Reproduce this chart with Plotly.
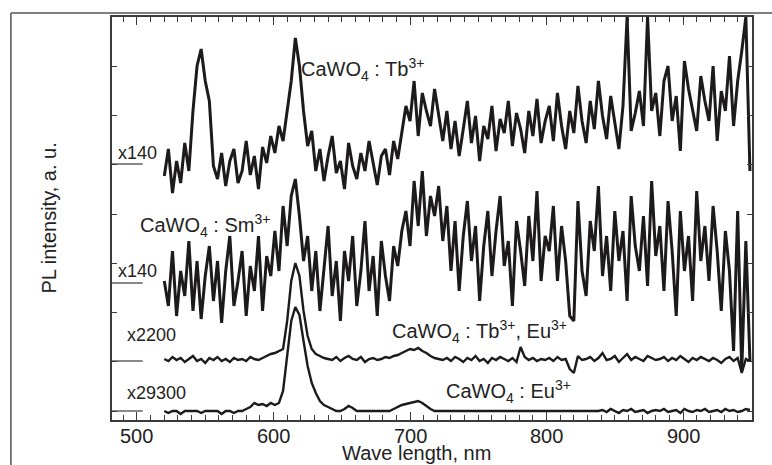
import plotly.graph_objects as go

# wavelength grid, nm
wavelength = list(range(520, 950, 3))
x_tick_values = [500, 600, 700, 800, 900]

# CaWO4:Tb3+ (x140), stacked intensity
tb = [235, 262, 218, 250, 228, 268, 240, 300,
      345, 362, 330, 310,
      245, 232, 258, 225, 250, 262, 228, 240, 270, 236, 255, 222, 264, 248, 275,
      258, 285, 270, 300, 330,
      373, 345,
      300, 265, 280, 240, 262, 230, 255, 275, 238, 250, 222, 268, 245, 232, 258, 240, 270, 248, 226, 255, 262, 236, 270, 252, 280,
      305, 290, 330, 275, 318, 300, 285, 322, 296,
      270, 300, 262, 290, 255, 282, 310, 268, 295, 250, 285, 272, 305, 260, 292, 278, 310, 265, 298, 282, 258, 300, 275, 312, 268, 290,
      305, 270, 318, 285, 262, 300, 278, 325, 290, 268, 310, 282, 330, 295, 272, 315, 288, 262, 305, 394, 280, 298, 320, 285, 394, 300, 318,
      275, 330, 345, 290, 315, 260, 350, 322, 300, 280, 335, 310, 290, 345, 270, 320, 300, 355, 285, 330, 360, 394, 240]

# CaWO4:Sm3+ (x140)
sm = [130, 105, 160, 95, 140, 115, 170, 100,
      150, 92, 135, 165,
      110, 150, 88, 140, 175, 105, 130, 160, 95, 145, 120, 175, 100, 155, 135,
      180, 140, 205, 165, 215,
      232, 195,
      150, 175, 120, 160, 100, 145, 185, 115, 150, 90, 160, 130, 175, 105, 140, 190, 120, 155, 95, 170, 135, 110, 165, 145, 180,
      200, 165, 230, 185, 240, 175, 215, 195, 225,
      170, 205, 140, 190, 120, 175, 210, 150, 185, 110, 165, 200, 135, 180, 215, 145, 170, 105, 190, 160, 125, 195, 150, 220, 130, 175,
      160, 205, 130, 185, 150, 95, 90, 210, 140, 115, 190, 160, 225, 135, 175, 120, 200, 150, 180, 110, 215, 165, 140, 195, 125, 230, 155,
      185, 120, 210, 160, 95, 200, 140, 175, 110, 220, 150, 185, 130, 205, 160, 100, 180, 140, 60, 200, 40, 170, 50]

# CaWO4:Tb3+,Eu3+ (x2200)
tbeu = [52, 50, 54, 51, 53, 49, 52, 55, 50, 52, 48, 53, 51, 54, 50, 52, 49, 53, 51, 52, 50, 54, 52, 51, 53, 55, 57,
        58, 60, 62, 90, 130,
        148, 135,
        100, 75, 62, 57, 55, 53, 52, 51, 54, 50, 53, 55, 52, 51, 54, 49, 52, 53, 51, 52, 54, 53, 55, 56, 58,
        60, 62, 61, 63, 60, 58, 55, 53, 52,
        51, 53, 50, 54, 52, 49, 53, 51, 55, 50, 52, 48, 53, 51, 54, 52, 50, 53, 49, 64, 54, 51, 53, 50, 52, 51,
        53, 50, 54, 51, 52, 42, 38, 55, 51, 52, 54, 50, 53, 58, 51, 52, 55, 49, 53, 57, 51, 54, 52, 50, 55, 53, 51,
        52, 54, 50, 53, 51, 55, 52, 49, 53, 51, 54, 52, 50, 53, 51, 48, 52, 54, 50, 53, 38, 52, 50]

# CaWO4:Eu3+ (x29300)
eu = [0, -2, 0, 0, -3, 0, 0, 0, 0, -2, 0, 0, 0, 0, -3, 0, 0, -2, 0, 0, 2, 4, 8, 6, 7, 5, 8,
      6, 8, 20, 55, 90,
      104, 96,
      70, 45, 28, 18, 10, 6, 4, 2, 0, 0, 2, 5, 3, 0, 0, 0, 0, 0, 0, 0, 0, 0, 2, 4, 6,
      7, 8, 9, 10, 8, 5, 2, 0, 0,
      0, 0, 0, 0, 0, 0, 0, 0, 0, 0, 0, 0, 0, 0, 0, 0, 0, 0, 0, 0, 0, 0, 0, 0, 0, 0,
      0, 0, 0, 0, 0, 0, 0, 0, 0, 0, 0, 0, 0, 1, -1, 2, 0, -2, 1, 0, 2, -1, 0, 1, -2, 0, 1,
      0, 2, -1, 0, 1, -2, 2, 0, -1, 1, 0, 2, -1, 0, 1, -1, 2, 0, 1, -1, 0, 2, 1]

series = [tb, sm, tbeu, eu]
series_widths = [3, 3, 2.4, 2.4]
series_xaxes = ["x", "x", "x", "x2"]

# zero levels of the scaled curves and their scale factors
zero_levels = [247, 128, 50, 0]
scale_labels = ["x140", "x140", "x2200", "x29300"]
scale_label_levels = [258, 140, 76, 18]
scale_label_x = [0.006, 0.006, 0.02, 0.02]

labels = ["CaWO<sub>4</sub> : Tb<sup>3+</sup>",
          "CaWO<sub>4</sub> : Sm<sup>3+</sup>",
          "CaWO<sub>4</sub> : Tb<sup>3+</sup>, Eu<sup>3+</sup>",
          "CaWO<sub>4</sub> : Eu<sup>3+</sup>"]
label_x = [0.292, 0.04, 0.434, 0.518]
label_y = [342, 186, 80, 20]

INK = "#1c1a1a"
AX = "#3a3a3a"
FONT = "Liberation Sans, Arial, sans-serif"

fig = go.Figure()
for ys, w, xa in zip(series, series_widths, series_xaxes):
    fig.add_trace(go.Scatter(x=wavelength, y=ys, mode="lines", xaxis=xa,
                             line=dict(color=INK, width=w), showlegend=False,
                             hoverinfo="skip"))

for lvl in zero_levels:
    fig.add_shape(type="line", xref="paper", yref="y", x0=0, x1=0.048,
                  y0=lvl, y1=lvl, line=dict(color=AX, width=1.2))

for t, lx, ly in zip(scale_labels, scale_label_x, scale_label_levels):
    fig.add_annotation(text=t, xref="paper", yref="y", x=lx, y=ly,
                       xanchor="left", yanchor="middle", showarrow=False,
                       font=dict(size=18, color="#222", family=FONT))

for t, lx, ly in zip(labels, label_x, label_y):
    fig.add_annotation(text=t, xref="paper", yref="y", x=lx, y=ly,
                       xanchor="left", yanchor="middle", showarrow=False,
                       font=dict(size=20, color="#222", family=FONT))

# x tick labels, placed close to the axis as in the original
for v in x_tick_values:
    fig.add_annotation(text=str(v), xref="x", yref="paper", x=v, y=-0.039,
                       xanchor="center", yanchor="middle", showarrow=False,
                       font=dict(size=20, color="#222", family=FONT))

# axis titles
fig.add_annotation(text="PL intensity, a. u.", xref="paper", yref="paper",
                   x=-0.1, y=0.5, textangle=-90, showarrow=False,
                   xanchor="center", yanchor="middle",
                   font=dict(size=20, color="#222", family=FONT))
fig.add_annotation(text="Wave length, nm", xref="paper", yref="paper",
                   x=0.475, y=-0.081, showarrow=False,
                   xanchor="center", yanchor="middle",
                   font=dict(size=20, color="#222", family=FONT))

# outer frame of the scanned figure
fig.add_shape(type="line", xref="paper", yref="paper", x0=-0.158, x1=-0.158,
              y0=1.0099, y1=-0.13, line=dict(color="#555", width=1.5))
fig.add_shape(type="line", xref="paper", yref="paper", x0=-0.158, x1=1.04,
              y0=1.0099, y1=1.0099, line=dict(color="#555", width=1.5))

XRANGE = [481.7, 950.5]
minor_ticks = dict(dtick=10, tick0=480, ticks="inside", ticklen=5,
                   tickwidth=1, tickcolor=AX, showgrid=False)

fig.update_layout(
    xaxis=dict(range=XRANGE, tickmode="array", tickvals=x_tick_values,
               ticks="inside", ticklen=8, tickwidth=1.2, tickcolor=AX,
               showticklabels=False,
               showline=True, linecolor=AX, linewidth=1.5, mirror=True,
               showgrid=False, zeroline=False, minor=minor_ticks),
    xaxis2=dict(range=XRANGE, matches="x", overlaying="x", side="top",
                anchor="y", tickmode="array", tickvals=x_tick_values,
                ticks="inside", ticklen=8, tickwidth=1.2, tickcolor=AX,
                showticklabels=False, showline=True, linecolor=AX,
                linewidth=1.5, showgrid=False, zeroline=False,
                minor=minor_ticks),
    yaxis=dict(range=[-9, 394], tickmode="array",
               tickvals=[0, 49.25, 98.5, 147.75, 197, 246.25, 295.5, 344.75, 394],
               ticks="inside", ticklen=5, tickwidth=1.2, tickcolor=AX,
               showticklabels=False,
               showline=True, linecolor=AX, linewidth=1.5, mirror="ticks",
               showgrid=False, zeroline=False),
    width=772, height=465,
    margin=dict(l=112, r=20, t=17, b=45),
    paper_bgcolor="white", plot_bgcolor="white",
    font=dict(family=FONT))

fig.write_html("out.html")
